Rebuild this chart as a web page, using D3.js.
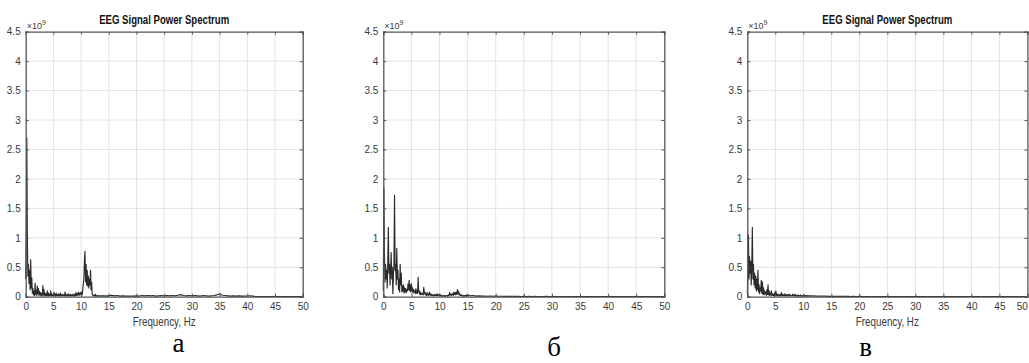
<!DOCTYPE html>
<html><head><meta charset="utf-8">
<script src="https://cdn.jsdelivr.net/npm/d3@7"></script>
<style>html,body{margin:0;padding:0;background:#fff;}svg{display:block;}</style>
</head><body>
<svg id="chart" width="1029" height="363"></svg>
<script>
// ---- data (power in units of 1e9) ----
const xTicks = [0,5,10,15,20,25,30,35,40,45,50];
const yTicks = [0,0.5,1,1.5,2,2.5,3,3.5,4,4.5];
const yTickLabels = ["0","0.5","1","1.5","2","2.5","3","3.5","4","4.5"];
const titleText = "EEG Signal Power Spectrum";
const xLabelText = "Frequency, Hz";
const panelLetters = ["а","б","в"];
// frequency bins (Hz): fine resolution below 15 Hz, coarse above
const binsLow = d3.range(0, 15, 0.1);
const binsHigh = d3.range(15, 50.001, 0.5);

const powerA_low = [
0.30,1.10,2.70,0.95,0.35,0.55,0.22,0.45,0.12,0.63,
0.15,0.32,0.06,0.14,0.03,0.09,0.02,0.23,0.04,0.11,
0.02,0.18,0.05,0.14,0.02,0.09,0.03,0.07,0.01,0.05,
0.02,0.19,0.03,0.12,0.01,0.06,0.02,0.05,0.01,0.10,
0.02,0.06,0.01,0.04,0.02,0.10,0.01,0.05,0.02,0.03,
0.01,0.08,0.02,0.04,0.01,0.06,0.02,0.03,0.01,0.05,
0.02,0.04,0.01,0.06,0.02,0.03,0.01,0.04,0.02,0.03,
0.01,0.08,0.02,0.04,0.01,0.03,0.02,0.05,0.01,0.03,
0.02,0.04,0.01,0.03,0.02,0.04,0.01,0.03,0.02,0.05,
0.01,0.07,0.02,0.05,0.03,0.08,0.02,0.06,0.03,0.07,
0.04,0.08,0.03,0.12,0.22,0.30,0.62,0.77,0.25,0.55,
0.20,0.45,0.18,0.35,0.15,0.30,0.20,0.45,0.12,0.25,
0.05,0.03,0.02,0.01,0.03,0.01,0.04,0.02,0.01,0.02,
0.01,0.02,0.01,0.01,0.02,0.01,0.01,0.02,0.01,0.01,
0.02,0.01,0.01,0.02,0.01,0.01,0.01,0.02,0.01,0.01];
const powerA_high = [
0.020,0.025,0.015,0.020,0.010,0.015,0.010,0.010,0.012,0.010,
0.015,0.010,0.020,0.015,0.020,0.015,0.020,0.010,0.015,0.020,
0.015,0.020,0.015,0.020,0.015,0.025,0.035,0.020,0.015,0.020,
0.015,0.020,0.015,0.010,0.020,0.015,0.010,0.015,0.020,0.030,
0.050,0.025,0.020,0.015,0.010,0.015,0.010,0.015,0.010,0.010,
0.012,0.015,0.010,0.004,0.003,0.003,0.003,0.003,0.003,0.003,
0.003,0.003,0.003,0.003,0.003,0.003,0.003,0.003,0.003,0.003,0.003];

const powerB_low = [
0.10,1.85,0.75,0.25,0.55,0.30,0.45,0.15,0.60,1.18,
0.40,0.55,0.20,0.45,0.75,0.30,0.50,0.05,0.35,0.60,
1.72,0.45,0.55,0.20,0.82,0.30,0.45,0.12,0.30,0.08,
0.55,0.20,0.40,0.08,0.18,0.10,0.20,0.06,0.15,0.08,
0.14,0.07,0.12,0.10,0.22,0.12,0.28,0.10,0.20,0.08,
0.22,0.10,0.15,0.06,0.12,0.08,0.10,0.05,0.14,0.06,
0.10,0.05,0.33,0.08,0.10,0.04,0.08,0.03,0.06,0.04,
0.05,0.03,0.16,0.05,0.08,0.03,0.05,0.02,0.07,0.03,
0.04,0.02,0.08,0.03,0.05,0.02,0.04,0.02,0.03,0.02,
0.03,0.02,0.04,0.02,0.03,0.02,0.05,0.02,0.03,0.02,
0.04,0.02,0.03,0.01,0.02,0.01,0.02,0.01,0.02,0.01,
0.02,0.01,0.02,0.01,0.02,0.01,0.03,0.02,0.07,0.03,
0.05,0.02,0.04,0.03,0.06,0.02,0.08,0.04,0.07,0.03,
0.08,0.04,0.12,0.05,0.09,0.03,0.05,0.02,0.03,0.02,
0.03,0.01,0.02,0.01,0.02,0.01,0.02,0.01,0.03,0.01];
const powerB_high = [
0.030,0.015,0.020,0.010,0.015,0.010,0.012,0.008,0.010,0.008,
0.012,0.007,0.008,0.006,0.007,0.005,0.006,0.005,0.006,0.004,
0.005,0.004,0.005,0.004,0.005,0.004,0.004,0.004,0.005,0.004,
0.004,0.003,0.004,0.003,0.004,0.003,0.004,0.003,0.003,0.003,
0.004,0.003,0.003,0.003,0.003,0.003,0.003,0.003,0.003,0.003,
0.003,0.003,0.003,0.003,0.003,0.003,0.003,0.003,0.003,0.003,
0.003,0.003,0.003,0.003,0.003,0.003,0.003,0.003,0.003,0.003,0.003];

const powerC_low = [
0.05,0.40,1.05,0.30,0.68,0.40,0.60,0.20,0.55,1.18,
0.30,0.55,0.20,0.40,0.15,0.35,0.10,0.30,0.12,0.45,
0.08,0.20,0.05,0.15,0.10,0.28,0.06,0.25,0.04,0.15,
0.03,0.10,0.05,0.08,0.02,0.12,0.04,0.20,0.03,0.10,
0.02,0.06,0.03,0.10,0.02,0.05,0.02,0.04,0.01,0.07,
0.02,0.10,0.02,0.05,0.01,0.04,0.02,0.03,0.01,0.04,
0.02,0.07,0.01,0.04,0.02,0.03,0.01,0.05,0.02,0.03,
0.01,0.04,0.02,0.03,0.01,0.04,0.02,0.03,0.01,0.02,
0.02,0.04,0.01,0.03,0.02,0.04,0.01,0.03,0.01,0.02,
0.01,0.03,0.01,0.02,0.01,0.03,0.01,0.02,0.01,0.02,
0.01,0.03,0.01,0.02,0.01,0.02,0.01,0.02,0.01,0.01,
0.02,0.01,0.015,0.01,0.02,0.01,0.01,0.015,0.01,0.01,
0.01,0.015,0.008,0.01,0.012,0.008,0.01,0.008,0.012,0.008,
0.01,0.008,0.012,0.007,0.01,0.008,0.01,0.007,0.009,0.007,
0.009,0.006,0.008,0.006,0.009,0.006,0.008,0.006,0.007,0.006];
const powerC_high = [
0.008,0.006,0.007,0.005,0.006,0.005,0.006,0.004,0.005,0.004,
0.005,0.004,0.004,0.003,0.004,0.003,0.004,0.003,0.003,0.003,
0.003,0.003,0.003,0.003,0.003,0.003,0.003,0.003,0.003,0.003,
0.003,0.003,0.003,0.003,0.003,0.003,0.003,0.003,0.003,0.003,
0.003,0.003,0.003,0.003,0.003,0.003,0.003,0.003,0.003,0.003,
0.003,0.003,0.003,0.003,0.003,0.003,0.003,0.003,0.003,0.003,
0.003,0.003,0.003,0.003,0.003,0.003,0.003,0.003,0.003,0.003,0.003];

// ---- layout ----
const panels = [
  {x0:25.7, x1:302.7, low:powerA_low, high:powerA_high, title:true, xlabel:true, letter:panelLetters[0], lx:178.5, ly:352},
  {x0:383.3, x1:664.3, low:powerB_low, high:powerB_high, title:false, xlabel:false, letter:panelLetters[1], lx:554, ly:356},
  {x0:747.3, x1:1027.4, low:powerC_low, high:powerC_high, title:true, xlabel:true, letter:panelLetters[2], lx:865.5, ly:356}
];
const yTop = 31.7, yBot = 296.7;
const svg = d3.select("#chart");
const sans = "'Liberation Sans', Arial, sans-serif";

panels.forEach(p => {
  const x = d3.scaleLinear().domain([0,50]).range([p.x0, p.x1]);
  const y = d3.scaleLinear().domain([0,4.5]).range([yBot, yTop]);
  const g = svg.append("g");
  // grid
  g.append("g").selectAll("line").data(xTicks.slice(1,-1)).join("line")
    .attr("x1", d=>x(d)).attr("x2", d=>x(d)).attr("y1", yTop).attr("y2", yBot)
    .attr("stroke", "#e3e3e3").attr("stroke-width", 1);
  g.append("g").selectAll("line").data(yTicks.slice(1,-1)).join("line")
    .attr("x1", p.x0).attr("x2", p.x1).attr("y1", d=>y(d)).attr("y2", d=>y(d))
    .attr("stroke", "#e3e3e3").attr("stroke-width", 1);
  // data line
  const pts = binsLow.map((f,i)=>[f, p.low[i]]).concat(binsHigh.map((f,i)=>[f, p.high[i]]));
  g.append("path").datum(pts)
    .attr("d", d3.line().x(d=>x(d[0])).y(d=>y(d[1])))
    .attr("fill", "none").attr("stroke", "#2b2b2b").attr("stroke-width", 1.15)
    .attr("stroke-linejoin", "round");
  // axes (MATLAB-like box with inward ticks)
  const axB = g.append("g").attr("transform", `translate(0,${yBot})`)
    .call(d3.axisBottom(x).tickValues(xTicks).tickSize(-3).tickPadding(6).tickFormat(d3.format("d")));
  const axT = g.append("g").attr("transform", `translate(0,${yTop})`)
    .call(d3.axisTop(x).tickValues(xTicks).tickSize(-3).tickFormat(""));
  const axL = g.append("g").attr("transform", `translate(${p.x0},0)`)
    .call(d3.axisLeft(y).tickValues(yTicks).tickSize(-3).tickPadding(5).tickFormat((d,i)=>yTickLabels[i]));
  const axR = g.append("g").attr("transform", `translate(${p.x1},0)`)
    .call(d3.axisRight(y).tickValues(yTicks).tickSize(-3).tickFormat(""));
  [axB, axT, axL, axR].forEach(a => {
    a.select(".domain").attr("stroke", "#555").attr("stroke-width", 1.3);
    a.selectAll(".tick line").attr("stroke", "#555");
    a.selectAll("text").attr("fill", "#3a3a3a").attr("font-family", sans).attr("font-size", 10);
  });
  // keep the last x label inside the picture when the panel touches the edge
  axB.selectAll(".tick").filter(d=>d===50 && x(50) > 1020).select("text")
    .attr("text-anchor", "end").attr("dx", "0");
  // exponent label
  const ex = g.append("text").attr("x", p.x0 + 1).attr("y", 28.5)
    .attr("font-family", sans).attr("font-size", 9).attr("fill", "#3a3a3a");
  ex.append("tspan").text("×10");
  ex.append("tspan").attr("font-size", 7).attr("dy", -4).text("9");
  // title
  if (p.title) {
    g.append("text").attr("x", (p.x0+p.x1)/2).attr("y", 24).attr("text-anchor", "middle")
      .attr("font-family", sans).attr("font-weight", "bold").attr("font-size", 12)
      .attr("textLength", 130).attr("lengthAdjust", "spacingAndGlyphs")
      .attr("fill", "#111").text(titleText);
  }
  if (p.xlabel) {
    g.append("text").attr("x", (p.x0+p.x1)/2).attr("y", 325.5).attr("text-anchor", "middle")
      .attr("font-family", sans).attr("font-size", 12)
      .attr("textLength", 63).attr("lengthAdjust", "spacingAndGlyphs")
      .attr("fill", "#3a3a3a").text(xLabelText);
  }
  g.append("text").attr("x", p.lx).attr("y", p.ly).attr("text-anchor", "middle")
    .attr("font-family", "'Liberation Serif', 'Times New Roman', serif").attr("font-size", 27)
    .attr("fill", "#000").text(p.letter);
});
</script>
</body></html>
